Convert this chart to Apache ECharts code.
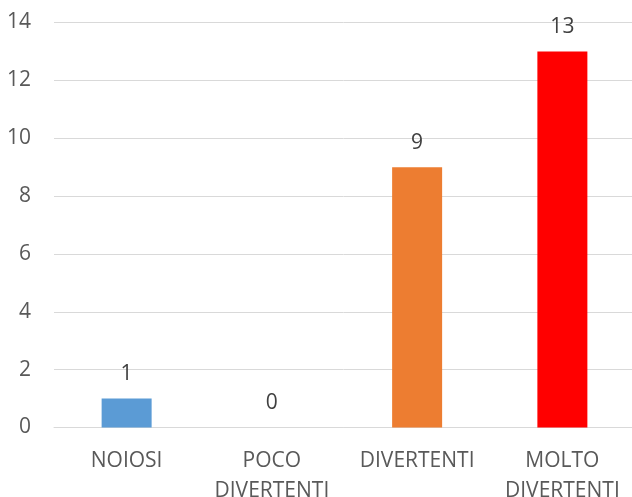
<!DOCTYPE html>
<html><head><meta charset="utf-8">
<script src="https://cdn.jsdelivr.net/npm/echarts@6/dist/echarts.min.js"></script>
<style>html,body{margin:0;padding:0;background:#fff;overflow:hidden}#c{width:632px;height:497px}</style>
</head><body><div id="c"></div>
<script>
const categories = ['NOIOSI', 'POCO\nDIVERTENTI', 'DIVERTENTI', 'MOLTO\nDIVERTENTI'];
const values = [1, 0, 9, 13];
const colors = ['#5B9BD5', '#5B9BD5', '#ED7D31', '#FF0000'];
const yTicks = { min: 0, max: 14, interval: 2 };

const chart = echarts.init(document.getElementById('c'), null, { renderer: 'canvas' });
const font = '"Open Sans", "Noto Sans", sans-serif';
chart.setOption({
  animation: false,
  grid: { left: 54, top: 22.5, width: 581, height: 405, containLabel: false, outerBoundsMode: 'none' },
  xAxis: {
    type: 'category',
    data: categories,
    axisLine: { show: true, lineStyle: { color: '#d9d9d9', width: 1 } },
    axisTick: { show: false },
    axisLabel: { color: '#595959', fontSize: 21, fontFamily: font, margin: 19, lineHeight: 30, interval: 0 }
  },
  yAxis: {
    type: 'value',
    min: yTicks.min, max: yTicks.max, interval: yTicks.interval,
    axisLine: { show: false },
    axisTick: { show: false },
    splitLine: { lineStyle: { color: '#d9d9d9', width: 1 } },
    axisLabel: { color: '#595959', fontSize: 21, fontFamily: font, margin: 23 }
  },
  series: [{
    type: 'bar',
    barWidth: 50,
    data: values.map((v, i) => ({ value: v, itemStyle: { color: colors[i] } })),
    label: { show: true, position: 'top', distance: 14, color: '#404040', fontSize: 21, fontFamily: font }
  }]
});
</script></body></html>
